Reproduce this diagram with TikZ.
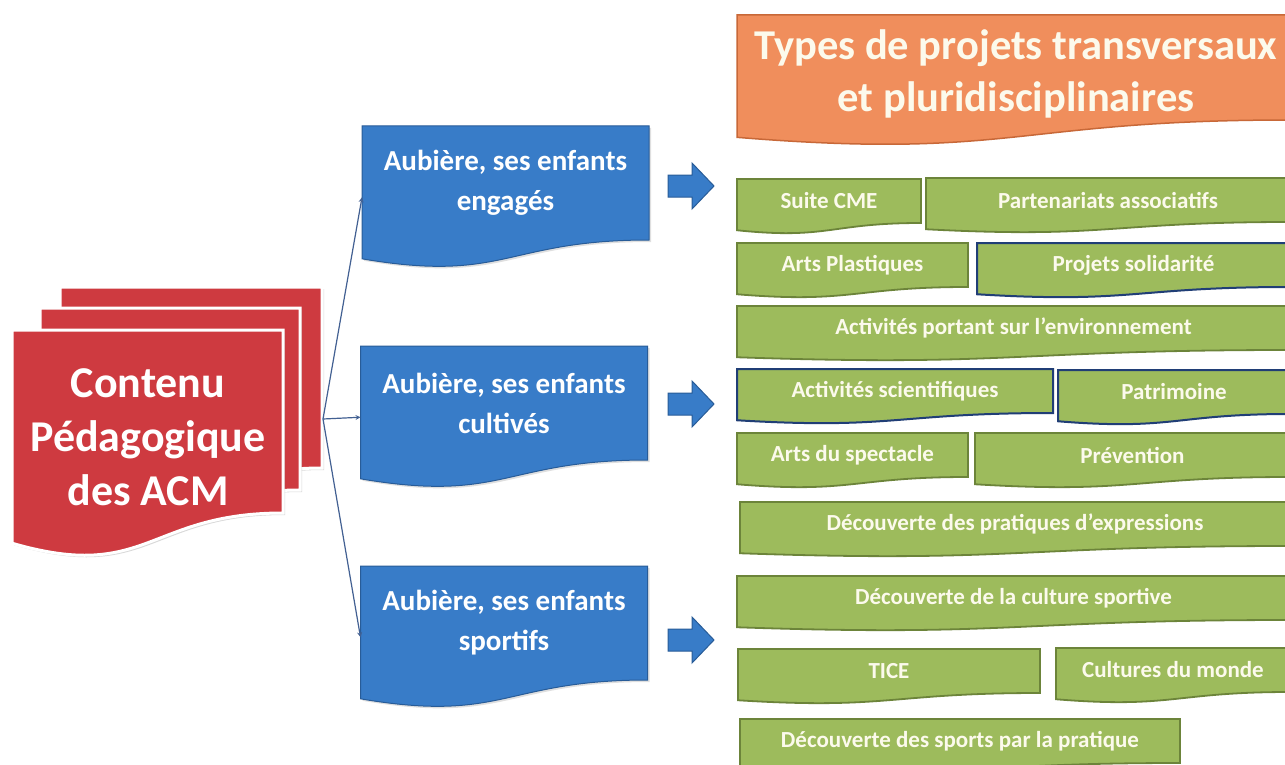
\documentclass[tikz,border=0pt]{standalone}
\usepackage{fontspec}
\setmainfont{Carlito}
\usetikzlibrary{positioning}
\usetikzlibrary{calc}
\usetikzlibrary{backgrounds}
\usetikzlibrary{shadows}

\definecolor{acmred}{RGB}{206,58,64}
\definecolor{boxblue}{RGB}{56,124,200}
\definecolor{boxblueline}{RGB}{40,92,152}
\definecolor{titleorange}{RGB}{240,142,92}
\definecolor{titleline}{RGB}{200,104,56}
\definecolor{typegreen}{RGB}{157,187,92}
\definecolor{typeline}{RGB}{108,132,58}
\definecolor{typenavy}{RGB}{32,62,118}
\definecolor{typetext}{RGB}{252,250,236}
\definecolor{linkblue}{RGB}{66,96,146}

\tikzset{
    wavenode/.style={inner sep=0pt, outer sep=0pt, align=center},
    redpage/.style={fill=acmred, draw=white, line width=3pt, drop shadow={opacity=.3, shadow xshift=2pt, shadow yshift=-2pt}},
    bluepage/.style={fill=boxblue, draw=boxblueline, line width=1pt, drop shadow={opacity=.25, shadow xshift=2pt, shadow yshift=-2pt}},
    orangepage/.style={fill=titleorange, draw=titleline, line width=1.5pt},
    greenpage/.style={fill=typegreen, draw=typeline, line width=1.8pt},
    navypage/.style={fill=typegreen, draw=typenavy, line width=2pt},
    bluebox/.style={wavenode, minimum width=287pt, minimum height=114pt, text=white, font=\fontsize{29}{40}\selectfont\bfseries},
    greenbox/.style={wavenode, minimum height=44pt, text=typetext, font=\fontsize{23}{28}\selectfont\bfseries},
    link/.style={draw=linkblue, line width=1.2pt, -stealth},
    blockarrow/.style={fill=boxblue, draw=boxblueline, line width=1pt}
}

% document outline under a node: flat top, wavy bottom
\newcommand{\wavepath}[2]{%
    \path[#2] (#1.north west) -- (#1.north east) -- (#1.south east)
        .. controls (#1.south) and ($(#1.north)!1.38!(#1.south)$)
        .. ($(#1.north west)!1.165!(#1.south west)$) -- cycle;}

\begin{document}
\begin{tikzpicture}[x=1pt, y=-1pt]
    \clip (0,0) rectangle (1285,765);

    % stacked red pages
    \node[wavenode, minimum width=262pt, minimum height=181pt] (p3) at (191,377.5) {};
    \node[wavenode, minimum width=260pt, minimum height=182pt] (p2) at (170,399) {};
    \node[wavenode, minimum width=271pt, minimum height=183pt] (p1) at (147.5,421.5) {};
    \node[wavenode, text=white, font=\fontsize{44}{54}\selectfont\bfseries] (acm) at (148,437) {Contenu\\P\'edagogique\\des ACM};

    % the three themes
    \node[bluebox] (b1) at (505.5,183) {Aubi\`ere, ses enfants\\engag\'es};
    \node[bluebox] (b2) at (504,403) {Aubi\`ere, ses enfants\\cultiv\'es};
    \node[bluebox] (b3) at (504,623) {Aubi\`ere, ses enfants\\sportifs};

    \coordinate (hub) at (323,419);
    \draw[link] (hub) -- ($(b1.north west)!0.625!(b1.south west)$);
    \draw[link] (hub) -- ($(b2.north west)!0.625!(b2.south west)$);
    \draw[link] (hub) -- ($(b3.north west)!0.625!(b3.south west)$);

    \foreach \ay in {186,404,640}
        \draw[blockarrow] (668,\ay-11) -- (692,\ay-11) -- (692,\ay-23) -- (714,\ay) -- (692,\ay+23) -- (692,\ay+11) -- (668,\ay+11) -- cycle;

    % title
    \node[wavenode, minimum width=553pt, minimum height=105pt] (title) at (1013.5,67.5) {};
    \node[wavenode, text=typetext, font=\fontsize{42.5}{52}\selectfont\bfseries] (titletext) at (1016,74) {Types de projets transversaux\\et pluridisciplinaires};

    % project types
    \node[greenbox, minimum width=184pt] (g1) at (829,201) {Suite CME};
    \node[greenbox, minimum width=364pt] (g2) at (1108,200) {Partenariats associatifs};
    \node[greenbox, minimum width=231pt] (g3) at (852.5,265) {Arts Plastiques};
    \node[greenbox, minimum width=313pt] (g4) at (1133.5,265) {Projets solidarit\'e};
    \node[greenbox, minimum width=553pt] (g5) at (1013.5,328) {Activit\'es portant sur l'environnement};
    \node[greenbox, minimum width=316pt] (g6) at (895,391) {Activit\'es scientifiques};
    \node[greenbox, minimum width=232pt] (g7) at (1174,392) {Patrimoine};
    \node[greenbox, minimum width=231pt] (g8) at (852.5,455) {Arts du spectacle};
    \node[greenbox, minimum width=315pt] (g9) at (1132.5,455) {Pr\'evention};
    \node[greenbox, minimum width=550pt] (g10) at (1015,524) {D\'ecouverte des pratiques d’expressions};
    \node[greenbox, minimum width=553pt] (g11) at (1013.5,598) {D\'ecouverte de la culture sportive};
    \node[greenbox, minimum width=302pt] (g12) at (889,671) {TICE};
    \node[greenbox, minimum width=234pt] (g13) at (1173,670) {Cultures du monde};
    \node[greenbox, minimum width=440pt] (g14) at (960,741) {D\'ecouverte des sports par la pratique};

    \begin{scope}[on background layer]
        \clip (0,0) rectangle (1285,765);
        \fill[white] (0,0) rectangle (1285,765);
        \wavepath{p3}{redpage}
        \wavepath{p2}{redpage}
        \wavepath{p1}{redpage}
        \wavepath{b1}{bluepage}
        \wavepath{b2}{bluepage}
        \wavepath{b3}{bluepage}
        \wavepath{title}{orangepage}
        \wavepath{g1}{greenpage}
        \wavepath{g2}{greenpage}
        \wavepath{g3}{greenpage}
        \wavepath{g4}{navypage}
        \wavepath{g5}{greenpage}
        \wavepath{g6}{navypage}
        \wavepath{g7}{navypage}
        \wavepath{g8}{greenpage}
        \wavepath{g9}{greenpage}
        \wavepath{g10}{greenpage}
        \wavepath{g11}{greenpage}
        \wavepath{g12}{greenpage}
        \wavepath{g13}{greenpage}
        \wavepath{g14}{greenpage}
    \end{scope}
\end{tikzpicture}
\end{document}
